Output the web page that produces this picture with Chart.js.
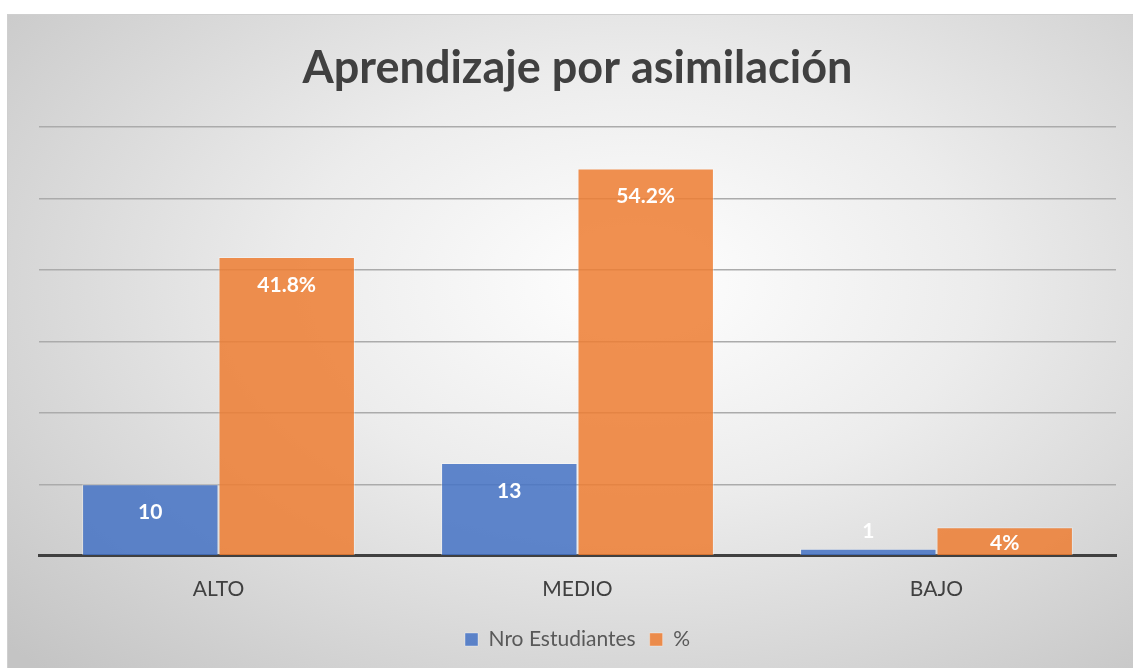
<!DOCTYPE html>
<html lang="es">
<head>
    <meta charset="UTF-8">
    <title>Aprendizaje por asimilación</title>
    <script src="https://cdn.jsdelivr.net/npm/chart.js"></script>
    <style>
        body, html {
            margin: 0;
            padding: 0;
            width: 1133px;
            height: 668px;
            overflow: hidden;
            background: #ffffff;
        }

        /* cuadro del gráfico con fondo degradado */
        #chartBox {
            position: absolute;
            left: 7px;
            top: 14px;
            width: 1140px;
            height: 670px;
            border: 1px solid #cfcfcf;
            background: radial-gradient(ellipse 75% 80% at 55% 40%, #ffffff 0%, #ececec 40%, #c4c4c4 100%);
        }

        #chartWrap {
            position: absolute;
            left: 0;
            top: 0;
            width: 1126px;
            height: 654px;
        }
    </style>
</head>
<body>
    <div id="chartBox">
        <div id="chartWrap">
            <canvas id="barChart"></canvas>
        </div>
    </div>

    <script>
        // Datos del gráfico
        const categorias = ['ALTO', 'MEDIO', 'BAJO'];
        const nroEstudiantes = [10, 13, 1];
        const porcentajes = [41.8, 54.2, 4];
        const etiquetasPorcentaje = ['41.8%', '54.2%', '4%'];

        // Etiquetas blancas sobre las barras
        const etiquetasPlugin = {
            id: 'etiquetas',
            afterDatasetsDraw(chart) {
                const ctx = chart.ctx;
                ctx.save();
                ctx.font = 'bold 21px Lato, "Open Sans", sans-serif';
                ctx.fillStyle = '#ffffff';
                ctx.textAlign = 'center';
                ctx.textBaseline = 'middle';
                chart.data.datasets.forEach((ds, i) => {
                    const meta = chart.getDatasetMeta(i);
                    meta.data.forEach((bar, j) => {
                        const alto = bar.base - bar.y;
                        let y;
                        if (alto >= 50) y = bar.y + 28;
                        else if (alto >= 20) y = (bar.y + bar.base) / 2 + 2;
                        else y = bar.y - 17;
                        const texto = i === 0 ? String(ds.data[j]) : etiquetasPorcentaje[j];
                        ctx.fillText(texto, bar.x, y);
                    });
                });
                ctx.restore();
            }
        };

        const barChartData = {
            labels: categorias,
            datasets: [{
                label: 'Nro Estudiantes',
                data: nroEstudiantes,
                backgroundColor: 'rgba(68, 114, 196, 0.85)',
                borderColor: 'rgba(255, 255, 255, 0.35)',
                borderWidth: 1
            }, {
                label: '%',
                data: porcentajes,
                backgroundColor: 'rgba(237, 125, 49, 0.85)',
                borderColor: 'rgba(255, 255, 255, 0.35)',
                borderWidth: 1
            }]
        };

        const barChartConfig = {
            type: 'bar',
            data: barChartData,
            plugins: [etiquetasPlugin],
            options: {
                responsive: true,
                maintainAspectRatio: false,
                animation: false,
                barPercentage: 1,
                categoryPercentage: 0.76,
                layout: {
                    padding: { left: 31, right: 18, top: 0, bottom: 9 }
                },
                plugins: {
                    title: {
                        display: true,
                        text: 'Aprendizaje por asimilación',
                        color: '#404040',
                        font: { family: 'Lato, "Open Sans", sans-serif', size: 45, weight: 'bold' },
                        padding: { top: 26, bottom: 32 }
                    },
                    legend: {
                        position: 'bottom',
                        labels: {
                            color: '#595959',
                            font: { family: 'Lato, "Open Sans", sans-serif', size: 21 },
                            boxWidth: 13,
                            boxHeight: 13,
                            padding: 14
                        }
                    },
                    tooltip: { enabled: false }
                },
                scales: {
                    x: {
                        grid: { display: false },
                        border: { color: '#404040', width: 3 },
                        ticks: {
                            color: '#404040',
                            padding: 13,
                            font: { family: 'Lato, "Open Sans", sans-serif', size: 21 }
                        }
                    },
                    y: {
                        min: 0,
                        max: 60,
                        ticks: { display: false, stepSize: 10 },
                        border: { display: false },
                        grid: { color: '#ababab', lineWidth: 1.5, drawTicks: false }
                    }
                }
            }
        };

        new Chart(document.getElementById('barChart'), barChartConfig);
    </script>
</body>
</html>
